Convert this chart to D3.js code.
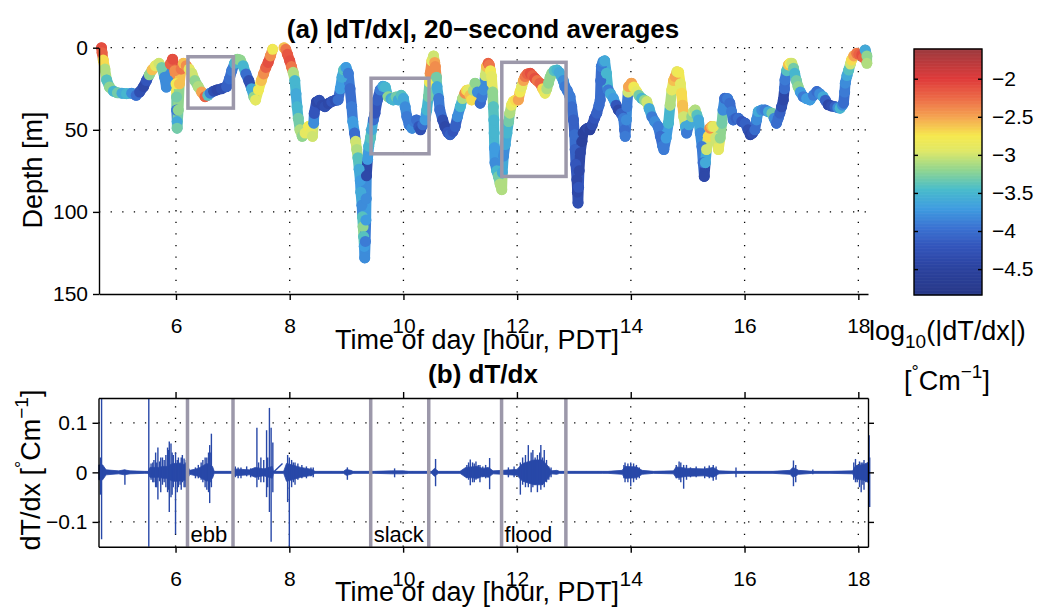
<!DOCTYPE html>
<html>
<head>
<meta charset="utf-8">
<script src="https://cdn.jsdelivr.net/npm/d3@7"></script>
<style>
body { margin: 0; background: #fff; }
</style>
</head>
<body>
<svg id="fig" width="1045" height="611"></svg>
<script>
// ---- data ----
// (a) profiler track: time [h], depth [m], log10(|dT/dx|)
const timeHr = [
  4.69,4.70,4.72,4.75,4.78,4.83,4.90,4.97,5.05,5.13,
  5.22,5.30,5.36,5.43,5.48,5.53,5.58,5.64,5.70,5.75,
  5.80,5.83,5.86,5.90,5.94,5.98,6.00,6.01,6.01,6.02,
  6.02,6.04,6.06,6.09,6.13,6.18,6.23,6.28,6.33,6.39,
  6.45,6.51,6.56,6.60,6.66,6.72,6.80,6.89,6.94,6.98,
  7.03,7.08,7.13,7.18,7.23,7.28,7.33,7.37,7.40,7.45,
  7.50,7.54,7.58,7.62,7.66,7.70,7.90,7.93,7.96,8.00,
  8.03,8.06,8.09,8.11,8.13,8.15,8.18,8.22,8.27,8.33,
  8.37,8.40,8.42,8.43,8.47,8.52,8.57,8.62,8.68,8.74,
  8.80,8.85,8.89,8.92,8.95,8.99,9.03,9.06,9.09,9.11,
  9.14,9.16,9.18,9.20,9.22,9.24,9.25,9.27,9.28,9.29,
  9.30,9.31,9.32,9.33,9.34,9.345,9.35,9.37,9.39,9.42,
  9.44,9.47,9.50,9.54,9.59,9.64,9.68,9.73,9.78,9.82,
  9.87,9.91,9.96,10.00,10.03,10.06,10.10,10.15,10.19,10.23,
  10.27,10.30,10.34,10.38,10.41,10.44,10.46,10.47,10.50,10.53,
  10.55,10.56,10.58,10.59,10.62,10.64,10.69,10.73,10.78,10.82,
  10.87,10.91,10.95,11.00,11.04,11.08,11.11,11.14,11.17,11.20,
  11.23,11.26,11.30,11.35,11.38,11.41,11.44,11.46,11.49,11.51,
  11.53,11.55,11.57,11.58,11.59,11.595,11.60,11.61,11.64,11.67,
  11.70,11.73,11.74,11.76,11.79,11.82,11.85,11.87,11.90,11.93,
  11.97,12.02,12.05,12.08,12.11,12.14,12.18,12.23,12.27,12.31,
  12.35,12.40,12.45,12.49,12.52,12.55,12.58,12.61,12.65,12.70,
  12.74,12.78,12.81,12.84,12.88,12.93,12.96,12.99,13.01,13.02,
  13.03,13.05,13.06,13.07,13.08,13.09,13.11,13.14,13.16,13.20,
  13.24,13.28,13.32,13.36,13.40,13.44,13.46,13.47,13.48,13.51,
  13.54,13.57,13.60,13.64,13.69,13.74,13.78,13.83,13.87,13.89,
  13.90,13.92,13.93,13.95,13.96,14.01,14.05,14.10,14.14,14.19,
  14.24,14.28,14.32,14.37,14.42,14.48,14.52,14.56,14.58,14.62,
  14.66,14.69,14.72,14.75,14.78,14.81,14.84,14.87,14.89,14.91,
  14.93,14.96,14.98,15.02,15.07,15.10,15.13,15.16,15.19,15.22,
  15.25,15.27,15.29,15.31,15.33,15.36,15.39,15.42,15.45,15.49,
  15.54,15.57,15.60,15.62,15.65,15.70,15.74,15.77,15.80,15.85,
  15.89,15.95,16.01,16.06,16.10,16.14,16.18,16.21,16.24,16.30,
  16.36,16.42,16.48,16.52,16.56,16.59,16.62,16.65,16.68,16.70,
  16.71,16.74,16.77,16.80,16.83,16.86,16.88,16.91,16.94,16.98,
  17.03,17.09,17.15,17.21,17.27,17.32,17.38,17.42,17.47,17.53,
  17.59,17.64,17.68,17.72,17.74,17.76,17.77,17.80,17.83,17.86,
  17.88,17.92,17.97,18.01,18.06,18.09,18.12,18.15,18.15
];
const depthM = [
  0,3,7.5,13,19.6,24,26.5,27.5,27.7,28,
  27.7,29,27,23.7,20,16.5,13.5,11,9.5,12,
  18,24,20,10,7,14,22,30,38,45,
  49,38,22,13,9.5,11,13,15.6,20,23.7,
  27,29.8,29,27.7,26.5,25.7,25,23.7,19,14,
  9.5,7,7.5,11,16,20,25,30,31.8,25.7,
  20,16,12,9,5,1,0,1,4,8,
  11.5,15,20,28,36,43,50,54,52,48,
  52,54,46,40,33,32,35,35.9,34,32.8,
  32,31.8,25,18,13.5,12,15.6,25,35.9,45,
  52,57,62,67,74,81,88,96,103,109,
  115,121,128,118,105,92,78,68,60,55,
  50,44,39.9,32,25.7,23.5,24,29.8,31,31.8,
  30,31.8,29,30.8,36,41.9,47,49,45,44,
  48,50,47,44,38,29.8,21,15.6,8,5,
  9,11.5,18,23.7,31,37.9,44,48,51.5,53,
  51,48,42,35.9,31,27.7,26,25.7,29,31.8,
  26,21.6,27,33.8,30,25.7,17,11.5,9.5,10.5,
  14,17.6,27,35.9,44,52,61,70,75,78.4,
  83,86.5,76,66,59,52,45,39.9,35,32.8,
  32,31.8,27,23.7,20,17.6,16,15.6,17,18.6,
  20,21.6,25,27.7,25,21.6,18,15.6,14,13.6,
  15,17.6,20,23.7,26,29.8,36,44,53,62,
  71,80.4,88,94.6,85,75,64,57,52,50,
  49,50,47,43,39.9,35,31.8,20,11.5,8.5,
  8,15.6,25.7,28,30.8,35,37.9,40,43,50,
  54,44,35.9,27,23.7,21.6,24,26.7,29,30.8,
  32,32.8,37,42,45,48,54,60,62,55,
  46,35,25.7,20,17.6,14.6,15,22,27.7,35,
  42,48,52,47,42,39,37.9,41,44,52,
  60.2,70,78.4,70,62,54,49,48,48,55,
  62,55,46,38,30.8,31,33.8,39,44,43,
  43,45,46,50,53,52,50,44,38.9,38,
  37.9,39,39.9,43,46,43,39.9,36,31.8,25,
  19.6,14,10.5,9.5,9.5,12.5,15.6,20,23.7,27,
  29.8,31,31.8,29,26.7,28,29.8,32,34.8,35.5,
  35.9,36.5,36.8,35,33.8,27,21.6,17,13.6,10,
  7.5,5,3.4,4,4.4,6,1.4,5,9.5
];
const logGrad = [
  -2.1,-2.2,-2.7,-3.1,-3.4,-3.2,-3.5,-3.3,-3.6,-3.5,
  -3.8,-4.0,-4.3,-4.4,-4.2,-3.2,-2.6,-2.9,-3.0,-3.3,
  -3.8,-3.8,-3.8,-2.2,-2.1,-2.4,-2.8,-3.3,-3.9,-3.6,
  -3.3,-3.2,-2.6,-2.3,-2.6,-2.4,-2.9,-3.0,-3.2,-3.1,
  -2.5,-2.2,-3.4,-3.9,-4.3,-4.4,-4.3,-4.1,-4.0,-3.9,
  -3.5,-3.2,-3.2,-3.5,-4.0,-4.3,-3.6,-3.2,-2.9,-2.8,
  -2.6,-2.4,-2.2,-2.1,-2.4,-2.8,-2.6,-2.3,-2.15,-2.1,
  -2.3,-3.1,-3.5,-3.6,-3.5,-3.3,-3.1,-3.2,-2.9,-2.8,
  -2.9,-3.0,-3.8,-4.2,-4.4,-4.3,-4.4,-4.3,-4.4,-4.2,
  -4.3,-4.0,-3.7,-3.6,-3.4,-3.7,-3.9,-4.0,-3.9,-3.7,
  -4.0,-3.0,-3.1,-3.4,-3.6,-3.7,-3.6,-3.8,-3.4,-3.2,
  -3.4,-3.7,-3.8,-3.9,-3.7,-3.8,-4.4,-3.7,-3.5,-3.4,
  -3.6,-4.0,-4.2,-4.1,-3.9,-3.6,-3.5,-3.2,-3.6,-3.5,
  -3.3,-3.6,-3.4,-3.6,-3.8,-3.9,-3.9,-3.8,-3.9,-4.0,
  -4.2,-4.3,-4.0,-3.7,-3.5,-3.3,-2.8,-2.4,-2.9,-3.0,
  -2.5,-2.4,-3.3,-3.6,-3.9,-4.0,-4.3,-4.4,-4.2,-4.1,
  -4.2,-4.1,-3.8,-3.5,-3.1,-2.4,-2.7,-2.9,-2.6,-2.7,
  -3.1,-3.2,-3.8,-4.0,-3.9,-3.8,-3.0,-2.6,-2.2,-2.3,
  -2.8,-2.9,-3.2,-3.4,-3.5,-3.5,-3.7,-3.8,-3.5,-3.3,
  -3.1,-3.1,-3.6,-3.8,-3.6,-3.5,-3.3,-3.1,-2.9,-2.8,
  -2.7,-2.5,-2.8,-2.9,-2.5,-2.3,-2.2,-2.1,-2.2,-2.1,
  -2.3,-2.2,-2.7,-2.9,-3.1,-3.2,-3.2,-3.2,-3.4,-3.5,
  -3.6,-3.6,-3.8,-3.9,-3.9,-3.9,-4.0,-4.1,-4.0,-4.1,
  -4.2,-4.4,-4.4,-4.3,-4.2,-4.4,-4.4,-4.5,-4.5,-4.5,
  -4.4,-4.5,-4.3,-4.2,-4.1,-4.0,-4.0,-4.0,-3.9,-3.8,
  -3.6,-3.5,-3.9,-3.6,-3.7,-4.2,-4.4,-4.1,-3.9,-4.0,
  -3.9,-3.8,-3.9,-3.0,-2.5,-2.5,-2.8,-2.9,-3.3,-3.5,
  -3.2,-3.0,-3.6,-3.9,-3.8,-3.9,-4.0,-3.9,-3.9,-3.7,
  -3.5,-3.1,-2.9,-2.6,-2.5,-2.9,-2.8,-2.9,-2.7,-2.6,
  -3.0,-3.6,-3.9,-3.6,-3.2,-3.0,-3.1,-3.4,-3.6,-3.8,
  -3.9,-4.0,-4.4,-3.6,-3.0,-2.7,-2.4,-2.6,-2.9,-3.0,
  -2.9,-3.2,-3.3,-3.8,-4.0,-3.9,-4.0,-3.9,-4.0,-4.1,
  -4.0,-4.2,-4.1,-4.3,-4.4,-4.3,-4.0,-3.8,-3.6,-3.8,
  -3.9,-3.6,-3.3,-3.8,-4.0,-4.0,-4.1,-4.3,-4.4,-4.0,
  -3.9,-3.4,-2.6,-2.8,-3.0,-3.3,-3.5,-3.3,-3.2,-3.7,
  -3.9,-3.7,-3.7,-3.9,-4.0,-3.8,-3.6,-4.1,-4.4,-4.3,
  -4.1,-3.8,-3.5,-3.8,-4.0,-3.9,-3.8,-3.6,-3.4,-3.0,
  -2.7,-2.5,-2.3,-2.2,-2.1,-2.2,-3.6,-3.2,-3.1
];

// boxes / phase windows (start, end time; depth range of box in panel a)
const phaseNames = ["ebb", "slack", "flood"];
const phaseStart = [6.21, 9.43, 11.73];
const phaseEnd = [7.01, 10.45, 12.86];
const boxTop = [5.5, 18.6, 8.9];
const boxBottom = [36.8, 64.6, 78.4];

// (b) dT/dx: background noise envelope (+/- amplitude, degC/m)
const noiseT = [4.65,4.72,4.78,5.00,5.10,5.20,5.45,5.52,5.55,5.70,5.78,5.85,5.95,6.05,6.20,6.25,6.40,6.55,6.65,6.68,
  7.00,7.02,7.30,7.40,7.55,7.70,7.72,7.90,7.95,8.05,8.20,8.40,8.45,8.95,9.00,9.08,9.12,9.50,9.80,10.00,
  10.10,10.50,10.55,10.62,11.00,11.10,11.30,11.40,11.50,11.58,11.75,12.00,12.10,12.30,12.45,12.55,12.60,12.70,12.75,13.50,
  13.60,13.85,13.90,14.10,14.20,14.40,14.75,14.80,15.00,15.30,15.45,15.55,15.80,16.00,16.50,16.80,16.85,16.95,17.20,17.50,
  17.90,17.95,18.10,18.17];
const noiseAmp = [0.015,0.015,0.005,0.003,0.005,0.003,0.002,0.002,0.01,0.01,0.012,0.012,0.018,0.018,0.015,0.004,0.008,0.018,0.012,0.002,
  0.002,0.007,0.005,0.01,0.007,0.012,0.002,0.002,0.018,0.015,0.01,0.006,0.002,0.002,0.006,0.004,0.002,0.002,0.003,0.003,
  0.002,0.002,0.008,0.002,0.002,0.01,0.012,0.008,0.01,0.003,0.004,0.006,0.018,0.025,0.025,0.012,0.003,0.004,0.002,0.002,
  0.002,0.004,0.012,0.011,0.004,0.002,0.003,0.011,0.008,0.007,0.01,0.003,0.002,0.002,0.002,0.004,0.01,0.004,0.002,0.002,
  0.003,0.013,0.016,0.02];
// the straight connecting stretch over the surfacing gap
const gapT = [7.72, 7.88];
const gapV = [0, 0.018];
// individual spikes: time, max, min
const spikeT = [4.68,4.70,5.11,5.53,5.57,5.60,5.62,5.65,5.67,5.69,5.72,5.74,5.77,5.80,5.83,5.86,5.88,5.89,5.92,5.94,
  5.96,6.00,6.03,6.05,6.08,6.10,6.12,6.15,6.17,6.19,6.35,6.40,6.45,6.48,6.52,6.55,6.58,6.60,6.62,6.63,
  7.05,7.10,7.15,7.25,7.32,7.43,7.46,7.50,7.55,7.60,7.62,7.65,7.68,7.71,7.97,8.00,8.04,8.07,8.10,8.15,
  8.22,8.30,8.38,8.42,9.02,9.85,10.57,11.12,11.15,11.18,11.22,11.25,11.28,11.32,11.35,11.40,11.45,11.52,11.85,11.95,
  12.06,12.10,12.15,12.20,12.25,12.28,12.32,12.36,12.40,12.42,12.45,12.48,12.52,12.56,12.60,13.88,13.90,13.95,14.00,14.05,
  14.10,14.15,14.80,14.85,14.88,14.93,14.98,15.05,15.15,15.30,15.38,15.45,15.50,15.85,16.86,16.90,17.20,17.92,17.95,17.98,
  18.02,18.05,18.08,18.10,18.13,18.19,18.20];
const spikeHi = [0.03,0.15,0.005,0.15,0.018,0.02,0.025,0.04,0.02,0.05,0.022,0.03,0.03,0.025,0.035,0.05,0.045,0.062,0.058,0.04,
  0.035,0.04,0.025,0.03,0.02,0.03,0.035,0.028,0.02,0.025,0.01,0.015,0.02,0.025,0.03,0.03,0.04,0.055,0.04,0.078,
  0.012,0.01,0.01,0.012,0.008,0.09,0.02,0.03,0.025,0.085,0.03,0.13,0.09,0.06,0.035,0.03,0.025,0.02,0.02,0.018,
  0.015,0.012,0.01,0.01,0.01,0.008,0.027,0.015,0.02,0.026,0.02,0.018,0.022,0.015,0.015,0.012,0.015,0.029,0.01,0.012,
  0.02,0.03,0.035,0.055,0.04,0.045,0.03,0.035,0.04,0.055,0.03,0.045,0.025,0.012,0.01,0.015,0.02,0.018,0.02,0.018,
  0.015,0.01,0.015,0.022,0.02,0.015,0.015,0.01,0.012,0.012,0.014,0.015,0.012,0.01,0.024,0.015,0.006,0.02,0.027,0.015,
  0.022,0.02,0.02,0.025,0.018,0.075,0.03];
const spikeLo = [-0.045,-0.135,-0.025,-0.15,-0.015,-0.02,-0.02,-0.03,-0.03,-0.055,-0.018,-0.04,-0.025,-0.02,-0.03,-0.04,-0.035,-0.08,-0.05,-0.045,
  -0.03,-0.125,-0.04,-0.03,-0.025,-0.035,-0.02,-0.03,-0.03,-0.02,-0.012,-0.012,-0.015,-0.02,-0.03,-0.035,-0.04,-0.062,-0.02,-0.03,
  -0.01,-0.012,-0.012,-0.008,-0.01,-0.03,-0.015,-0.02,-0.02,-0.05,-0.03,-0.08,-0.14,-0.04,-0.06,-0.15,-0.03,-0.02,-0.025,-0.015,
  -0.012,-0.012,-0.008,-0.01,-0.015,-0.01,-0.028,-0.012,-0.015,-0.026,-0.02,-0.02,-0.015,-0.012,-0.02,-0.01,-0.012,-0.034,-0.01,-0.01,
  -0.045,-0.025,-0.03,-0.03,-0.04,-0.03,-0.025,-0.04,-0.02,-0.035,-0.025,-0.03,-0.02,-0.015,-0.01,-0.012,-0.02,-0.02,-0.028,-0.02,
  -0.015,-0.012,-0.012,-0.015,-0.02,-0.033,-0.015,-0.01,-0.01,-0.012,-0.012,-0.017,-0.015,-0.01,-0.028,-0.02,-0.004,-0.015,-0.02,-0.02,
  -0.03,-0.04,-0.025,-0.035,-0.02,-0.02,-0.07];

// axes
const tRange = [4.646, 18.17];
const timeTicks = [6, 8, 10, 12, 14, 16, 18];
const depthTicks = [0, 50, 100, 150];
const gradTicks = [-0.1, 0, 0.1];
const cbarTicks = [-4.5, -4, -3.5, -3, -2.5, -2];
const cbarRange = [-4.84, -1.61];

// colour map as it looks in the printed figure (jet-like)
const cmapStops = [-4.84,-4.5,-4.2,-3.95,-3.7,-3.45,-3.2,-2.95,-2.75,-2.5,-2.25,-2.0,-1.61];
const cmapColors = ["#283888","#2b429e","#3355bb","#3b73d2","#3f9ce0","#49bccb","#90d590","#dfe868","#f6e94e","#f5a451","#ec6a47","#df3b3b","#9c3a3e"];

// ---- drawing ----
const FONT = '"Liberation Sans", Arial, Helvetica, sans-serif';
const grey = "#9c98aa";
const svg = d3.select("#fig");
const color = d3.scaleLinear().domain(cmapStops).range(cmapColors).clamp(true);

function styleAxis(g) {
  g.attr("font-size", 21).attr("font-family", FONT);
  g.selectAll("path, line").attr("stroke", "#000").attr("stroke-width", 1.4);
  g.selectAll("text").attr("fill", "#000");
}
function dotted(sel) {
  return sel.attr("stroke", "#000").attr("stroke-width", 1.3).attr("stroke-dasharray", "1.3,10.3");
}

// ===== panel (a) =====
const xA = d3.scaleLinear().domain(tRange).range([99, 868]);
const yA = d3.scaleLinear().domain([0, 150]).range([47.7, 294]);
const gA = svg.append("g");

gA.selectAll(".vg").data(timeTicks).join("line")
  .attr("x1", d => xA(d)).attr("x2", d => xA(d)).attr("y1", yA(0)).attr("y2", yA(150))
  .call(dotted);
gA.selectAll(".hg").data([0, 50, 100]).join("line")
  .attr("x1", xA.range()[0]).attr("x2", xA.range()[1]).attr("y1", d => yA(d)).attr("y2", d => yA(d))
  .call(dotted);

const idx = d3.range(timeHr.length);
const segs = d3.pairs(idx).filter(([a, b]) => timeHr[b] - timeHr[a] < 0.15);
gA.append("g").selectAll("line").data(segs).join("line")
  .attr("x1", ([a]) => xA(timeHr[a])).attr("y1", ([a]) => yA(depthM[a]))
  .attr("x2", ([, b]) => xA(timeHr[b])).attr("y2", ([, b]) => yA(depthM[b]))
  .attr("stroke", ([a]) => color(logGrad[a]))
  .attr("stroke-width", 10.5).attr("stroke-linecap", "round");
gA.append("g").selectAll("circle").data(idx).join("circle")
  .attr("cx", i => xA(timeHr[i])).attr("cy", i => yA(depthM[i])).attr("r", 5.5)
  .attr("fill", i => color(logGrad[i]));

gA.selectAll(".box").data(phaseNames).join("rect")
  .attr("x", (d, i) => xA(phaseStart[i])).attr("y", (d, i) => yA(boxTop[i]))
  .attr("width", (d, i) => xA(phaseEnd[i]) - xA(phaseStart[i]))
  .attr("height", (d, i) => yA(boxBottom[i]) - yA(boxTop[i]))
  .attr("fill", "none").attr("stroke", grey).attr("stroke-width", 3.5);

gA.append("g").attr("transform", `translate(0,${yA(150)})`)
  .call(d3.axisBottom(xA).tickValues(timeTicks).tickSize(6).tickSizeOuter(0).tickPadding(18))
  .call(styleAxis);
gA.append("g").attr("transform", `translate(${xA(tRange[0])},0)`)
  .call(d3.axisLeft(yA).tickValues(depthTicks).tickSize(6).tickSizeOuter(0).tickPadding(5))
  .call(styleAxis);

gA.append("text").attr("x", 483).attr("y", 38).attr("text-anchor", "middle")
  .attr("font-family", FONT).attr("font-size", 26).attr("font-weight", "bold")
  .text("(a) |dT/dx|, 20\u2212second averages");
gA.append("text").attr("x", 477).attr("y", 349).attr("text-anchor", "middle")
  .attr("font-family", FONT).attr("font-size", 27).text("Time of day [hour, PDT]");
gA.append("text").attr("transform", "translate(42,170) rotate(-90)").attr("text-anchor", "middle")
  .attr("font-family", FONT).attr("font-size", 27).text("Depth [m]");

// colour bar
const cbX0 = 914, cbX1 = 982;
const yC = d3.scaleLinear().domain(cbarRange).range([295, 49]);
const cbSteps = d3.range(cbarRange[0], cbarRange[1], 0.01);
svg.append("g").selectAll("rect").data(cbSteps).join("rect")
  .attr("x", cbX0).attr("width", cbX1 - cbX0)
  .attr("y", d => yC(d + 0.01) - 0.3).attr("height", d => yC(d) - yC(d + 0.01) + 0.6)
  .attr("fill", d => color(d + 0.005));
svg.append("rect").attr("x", cbX0).attr("y", yC(cbarRange[1])).attr("width", cbX1 - cbX0)
  .attr("height", yC(cbarRange[0]) - yC(cbarRange[1])).attr("fill", "none")
  .attr("stroke", "#000").attr("stroke-width", 1.4);
svg.append("g").attr("transform", `translate(${cbX1},0)`)
  .call(d3.axisRight(yC).tickValues(cbarTicks).tickSize(-4).tickSizeOuter(0).tickPadding(10).tickFormat(d3.format("~")))
  .call(styleAxis).call(g => g.select(".domain").remove());
svg.append("g").attr("transform", `translate(${cbX0},0)`)
  .call(d3.axisLeft(yC).tickValues(cbarTicks).tickSize(-4).tickSizeOuter(0).tickFormat(""))
  .call(styleAxis).call(g => g.select(".domain").remove());

const lbl1 = svg.append("text").attr("x", 869).attr("y", 340)
  .attr("font-family", FONT).attr("font-size", 27);
lbl1.append("tspan").text("log");
lbl1.append("tspan").attr("font-size", 19).attr("dy", 8).text("10");
lbl1.append("tspan").attr("dy", -8).text("(|dT/dx|)");
const lbl2 = svg.append("text").attr("x", 947).attr("y", 390).attr("text-anchor", "middle")
  .attr("font-family", FONT).attr("font-size", 27);
lbl2.append("tspan").text("[");
lbl2.append("tspan").attr("font-size", 18).attr("dy", -12).text("\u00b0");
lbl2.append("tspan").attr("dy", 12).text("Cm");
lbl2.append("tspan").attr("font-size", 19).attr("dy", -12).text("\u22121");
lbl2.append("tspan").attr("dy", 12).text("]");

// ===== panel (b) =====
const xB = d3.scaleLinear().domain(tRange).range([98.5, 868]);
const yB = d3.scaleLinear().domain([-0.15, 0.15]).range([546.7, 398]).clamp(true);
const gB = svg.append("g");

gB.selectAll(".vg").data(timeTicks).join("line")
  .attr("x1", d => xB(d)).attr("x2", d => xB(d)).attr("y1", yB(-0.15)).attr("y2", yB(0.15))
  .call(dotted);
gB.selectAll(".hg").data(gradTicks).join("line")
  .attr("x1", xB.range()[0]).attr("x2", xB.range()[1]).attr("y1", d => yB(d)).attr("y2", d => yB(d))
  .call(dotted);

const sigBlue = "#2848a8";
const noise = d3.range(noiseT.length);
gB.append("path").datum(noise)
  .attr("d", d3.area().x(i => xB(noiseT[i])).y0(i => yB(-noiseAmp[i])).y1(i => yB(noiseAmp[i])))
  .attr("fill", sigBlue).attr("stroke", sigBlue).attr("stroke-width", 0.8);
gB.append("line").attr("x1", xB(noiseT[0])).attr("x2", xB(noiseT[noiseT.length - 1]))
  .attr("y1", yB(0)).attr("y2", yB(0)).attr("stroke", sigBlue).attr("stroke-width", 1.6);
gB.append("path").datum(d3.range(gapT.length))
  .attr("d", d3.line().x(i => xB(gapT[i])).y(i => yB(gapV[i])))
  .attr("fill", "none").attr("stroke", sigBlue).attr("stroke-width", 1.4);
gB.append("g").selectAll("line").data(d3.range(spikeT.length)).join("line")
  .attr("x1", i => xB(spikeT[i])).attr("x2", i => xB(spikeT[i]))
  .attr("y1", i => yB(spikeHi[i])).attr("y2", i => yB(spikeLo[i]))
  .attr("stroke", sigBlue).attr("stroke-width", 1.4);

const phaseLines = phaseStart.concat(phaseEnd);
gB.selectAll(".pl").data(phaseLines).join("line")
  .attr("x1", d => xB(d)).attr("x2", d => xB(d)).attr("y1", yB(0.15)).attr("y2", yB(-0.15))
  .attr("stroke", grey).attr("stroke-width", 3.5);
gB.selectAll(".pt").data(phaseNames).join("text")
  .attr("x", (d, i) => xB(phaseStart[i]) + 3).attr("y", 542)
  .attr("font-family", FONT).attr("font-size", 22).text(d => d);

gB.append("g").attr("transform", `translate(0,${yB(-0.15)})`)
  .call(d3.axisBottom(xB).tickValues(timeTicks).tickSize(6).tickSizeOuter(0).tickPadding(18))
  .call(styleAxis);
gB.append("g").attr("transform", `translate(0,${yB(0.15)})`)
  .call(d3.axisTop(xB).tickValues(timeTicks).tickSize(6).tickSizeOuter(0).tickFormat(""))
  .call(styleAxis);
gB.append("g").attr("transform", `translate(${xB.range()[0]},0)`)
  .call(d3.axisLeft(yB).tickValues(gradTicks).tickSize(6).tickSizeOuter(0).tickPadding(5).tickFormat(d3.format("~")))
  .call(styleAxis);
gB.append("g").attr("transform", `translate(${xB.range()[1]},0)`)
  .call(d3.axisRight(yB).tickValues(gradTicks).tickSize(6).tickSizeOuter(0).tickFormat(""))
  .call(styleAxis);

gB.append("text").attr("x", 483).attr("y", 383).attr("text-anchor", "middle")
  .attr("font-family", FONT).attr("font-size", 26).attr("font-weight", "bold").text("(b) dT/dx");
gB.append("text").attr("x", 477).attr("y", 601).attr("text-anchor", "middle")
  .attr("font-family", FONT).attr("font-size", 27).text("Time of day [hour, PDT]");
const lbl3 = gB.append("text").attr("transform", "translate(40,470) rotate(-90)").attr("text-anchor", "middle")
  .attr("font-family", FONT).attr("font-size", 27);
lbl3.append("tspan").text("dT/dx [");
lbl3.append("tspan").attr("font-size", 18).attr("dy", -12).text("\u00b0");
lbl3.append("tspan").attr("dy", 12).text("Cm");
lbl3.append("tspan").attr("font-size", 19).attr("dy", -12).text("\u22121");
lbl3.append("tspan").attr("dy", 12).text("]");
</script>
</body>
</html>
